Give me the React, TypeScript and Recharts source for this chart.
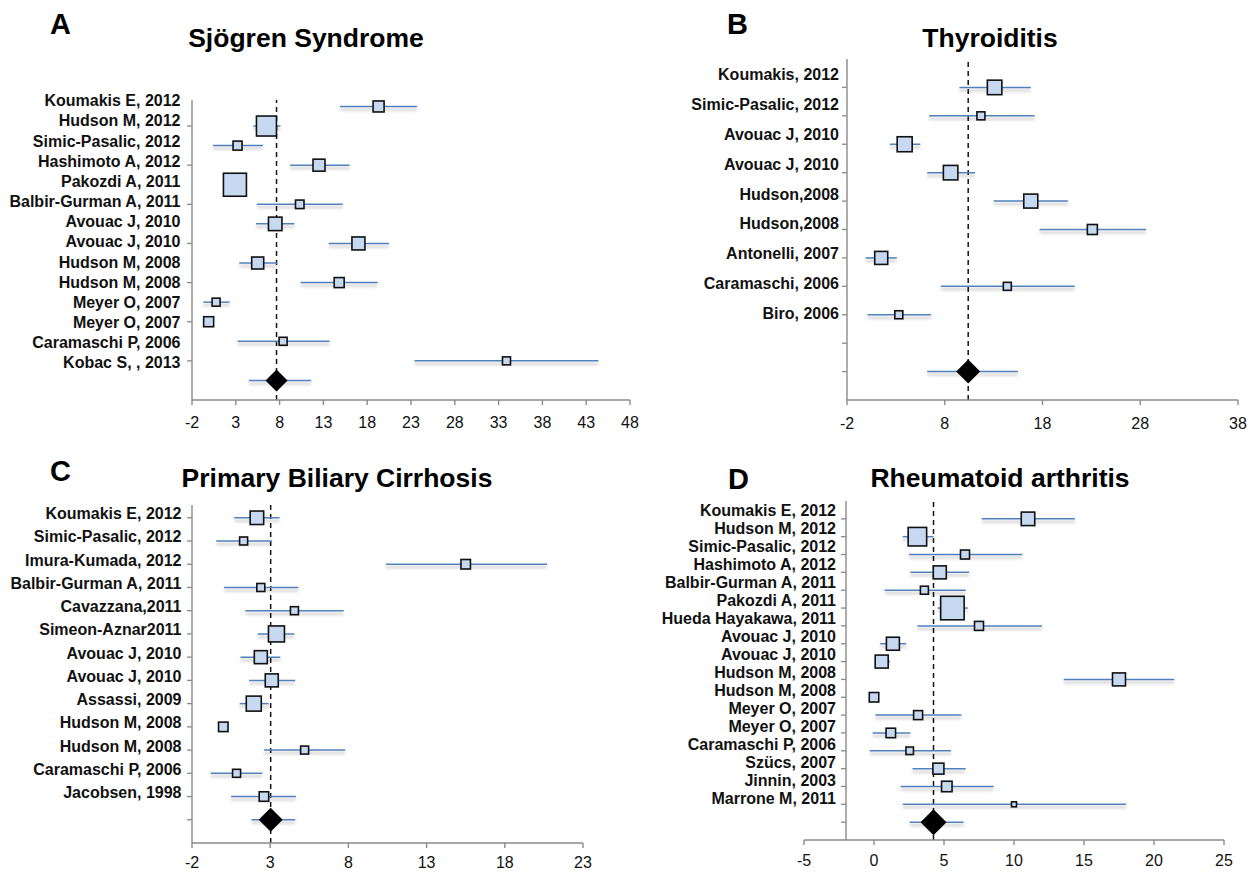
import { ScatterChart, Scatter, XAxis, YAxis, ReferenceLine, ErrorBar } from 'recharts'

// ---- A: Sjögren Syndrome
const sjoLabels = ['Koumakis E, 2012', 'Hudson M, 2012', 'Simic-Pasalic, 2012', 'Hashimoto A, 2012', 'Pakozdi A, 2011', 'Balbir-Gurman A, 2011', 'Avouac J, 2010', 'Avouac J, 2010', 'Hudson M, 2008', 'Hudson M, 2008', 'Meyer O, 2007', 'Meyer O, 2007', 'Caramaschi P, 2006', 'Kobac S, , 2013']
const sjoEst = [19.3, 6.5, 3.2, 12.5, 2.9, 10.3, 7.5, 17.0, 5.5, 14.8, 0.75, -0.1, 8.4, 33.9]
const sjoLow = [14.9, 5.0, 0.4, 9.2, 2.1, 5.4, 5.3, 13.6, 3.4, 10.4, -0.7, -0.4, 3.2, 23.4]
const sjoHigh = [23.7, 8.1, 6.1, 16.0, 3.7, 15.2, 9.7, 20.5, 7.7, 19.2, 2.3, 0.2, 13.7, 44.4]
const sjoWeight = [11, 20, 9, 12, 23, 8.5, 13.5, 13, 12, 10, 8, 10, 8, 8]
const sjoPooled = [7.65, 4.5, 11.6]
const sjoTicks = [-2, 3, 8, 13, 18, 23, 28, 33, 38, 43, 48]

// ---- B: Thyroiditis
const thyLabels = ['Koumakis, 2012', 'Simic-Pasalic, 2012', 'Avouac J, 2010', 'Avouac J, 2010', 'Hudson,2008', 'Hudson,2008', 'Antonelli, 2007', 'Caramaschi, 2006', 'Biro, 2006']
const thyEst = [13.1, 11.7, 3.9, 8.6, 16.8, 23.1, 1.5, 14.4, 3.3]
const thyLow = [9.5, 6.4, 2.4, 6.2, 13.0, 17.7, -0.1, 7.6, 0.1]
const thyHigh = [16.8, 17.2, 5.5, 11.1, 20.6, 28.6, 3.1, 21.3, 6.6]
const thyWeight = [14.5, 8, 15, 14.5, 14, 10, 13, 8, 8]
const thyPooled = [10.4, 6.2, 15.5]
const thyTicks = [-2, 8, 18, 28, 38]

// ---- C: Primary Biliary Cirrhosis
const pbcLabels = ['Koumakis E, 2012', 'Simic-Pasalic, 2012', 'Imura-Kumada, 2012', 'Balbir-Gurman A, 2011', 'Cavazzana,2011', 'Simeon-Aznar2011', 'Avouac J, 2010', 'Avouac J, 2010', 'Assassi, 2009', 'Hudson M, 2008', 'Hudson M, 2008', 'Caramaschi P, 2006', 'Jacobsen, 1998']
const pbcEst = [2.15, 1.3, 15.5, 2.4, 4.55, 3.4, 2.4, 3.1, 1.95, 0.0, 5.2, 0.85, 2.6]
const pbcLow = [0.7, -0.45, 10.4, 0.05, 1.4, 2.2, 1.1, 1.65, 1.05, -0.2, 2.6, -0.8, 0.5]
const pbcHigh = [3.6, 3.1, 20.7, 4.8, 7.7, 4.55, 3.65, 4.6, 2.9, 0.2, 7.8, 2.5, 4.65]
const pbcWeight = [13.5, 8, 9.5, 8, 8, 16, 13, 13, 15, 9.5, 8, 8, 9.5]
const pbcPooled = [3.03, 1.8, 4.6]
const pbcTicks = [-2, 3, 8, 13, 18, 23]

// ---- D: Rheumatoid arthritis
const raLabels = ['Koumakis E, 2012', 'Hudson M, 2012', 'Simic-Pasalic, 2012', 'Hashimoto A, 2012', 'Balbir-Gurman A, 2011', 'Pakozdi A, 2011', 'Hueda Hayakawa, 2011', 'Avouac J, 2010', 'Avouac J, 2010', 'Hudson M, 2008', 'Hudson M, 2008', 'Meyer O, 2007', 'Meyer O, 2007', 'Caramaschi P, 2006', 'Szücs, 2007', 'Jinnin, 2003', 'Marrone M, 2011']
const raEst = [11.0, 3.1, 6.5, 4.7, 3.6, 5.6, 7.5, 1.35, 0.55, 17.5, 0.0, 3.15, 1.2, 2.55, 4.6, 5.2, 10.0]
const raLow = [7.7, 2.05, 2.5, 2.6, 0.75, 4.55, 3.1, 0.45, 0.05, 13.55, -0.2, 0.1, -0.1, -0.3, 2.75, 1.9, 2.05]
const raHigh = [14.35, 4.25, 10.6, 6.8, 6.55, 6.7, 12.0, 2.3, 1.15, 21.45, 0.2, 6.25, 2.6, 5.5, 6.55, 8.55, 18.0]
const raWeight = [13.5, 18.5, 9, 13, 8, 23.5, 9, 13, 13, 13, 9.5, 9, 9.5, 7.5, 11, 10.5, 5]
const raPooled = [4.25, 2.55, 6.4]
const raTicks = [-5, 0, 5, 10, 15, 20, 25]

const FONT = '"Liberation Sans", Arial, Helvetica, sans-serif'
const AXIS = '#8a8a8a'
const CI_BLUE = '#4f81bd'
const BOX_FILL = '#c6d9f1'
const Y_W = 200
const M_TOP = 10
const M_RIGHT = 16
const X_H = 32

type PanelProps = {
  letter: string
  title: string
  plotLeft: number
  plotRight: number
  plotTop: number
  plotBottom: number
  titleX: number
  titleY: number
  letterX: number
  letterY: number
  labels: string[]
  est: number[]
  low: number[]
  high: number[]
  weight: number[]
  pooled: number[]
  xTicks: number[]
  tickGap: number
  firstRow: number
  yMax: number
  markStep: number
  gap: number
  dy0: number
  dyStep: number
  diamond: number
  yAxisAt?: number
}

function Panel(p: PanelProps) {
  const plotW = p.plotRight - p.plotLeft
  const plotH = p.plotBottom - p.plotTop
  const xMin = p.xTicks[0]
  const xMax = p.xTicks[p.xTicks.length - 1]
  // panel D draws its vertical axis at x = -2 instead of at the left edge
  const shift = p.yAxisAt !== undefined ? ((p.yAxisAt - xMin) / (xMax - xMin)) * plotW : 0

  const studies = p.labels.map((name, i) => ({
    name,
    x: p.est[i],
    y: p.firstRow - i,
    w: p.weight[i],
    err: [p.est[i] - p.low[i], p.high[i] - p.est[i]],
  }))
  const summary = [{ x: p.pooled[0], y: 1, err: [p.pooled[0] - p.pooled[1], p.pooled[2] - p.pooled[0]] }]
  const rowTicks = Array.from({ length: p.firstRow + 1 }, (_, i) => i)

  const renderTick = (t: any) => {
    const v = t.payload.value
    const i = p.firstRow - v
    const name = v >= 2 && i >= 0 && i < p.labels.length ? p.labels[i] : null
    const ax = t.x + shift
    return (
      <g>
        {v > 0 && v % p.markStep === 0 && <line x1={ax - 5} x2={ax} y1={t.y} y2={t.y} stroke={AXIS} strokeWidth={1.3} />}
        {name && (
          <text x={ax - p.gap} y={t.y + p.dy0 + p.dyStep * i} dy="0.36em" textAnchor="end" fontFamily={FONT} fontWeight="bold" fontSize={16} fill="#111">
            {name}
          </text>
        )}
      </g>
    )
  }

  const box = (s: any) => {
    const side = s.payload.w
    return <rect x={s.cx - side / 2} y={s.cy - side / 2} width={side} height={side} fill={BOX_FILL} stroke="#111" strokeWidth={1.6} />
  }
  const dia = (s: any) => {
    const h = p.diamond
    return <polygon points={`${s.cx - h},${s.cy} ${s.cx},${s.cy - h} ${s.cx + h},${s.cy} ${s.cx},${s.cy + h}`} fill="#000" />
  }

  const shadow = { filter: 'drop-shadow(0px 3px 1.5px rgba(0,0,0,0.28))' }

  return (
    <>
      <div style={{ position: 'absolute', left: p.letterX, top: p.letterY, fontFamily: FONT, fontWeight: 'bold', fontSize: 29, lineHeight: '30px' }}>{p.letter}</div>
      <div style={{ position: 'absolute', left: p.titleX - 250, width: 500, top: p.titleY - 15, textAlign: 'center', fontFamily: FONT, fontWeight: 'bold', fontSize: 26.5, lineHeight: '30px' }}>{p.title}</div>
      <div style={{ position: 'absolute', left: p.plotLeft - Y_W, top: p.plotTop - M_TOP }}>
        <ScatterChart width={Y_W + plotW + M_RIGHT} height={M_TOP + plotH + X_H} margin={{ top: M_TOP, right: M_RIGHT, bottom: 0, left: 0 }}>
          <XAxis
            type="number"
            dataKey="x"
            domain={[xMin, xMax]}
            ticks={p.xTicks}
            interval={0}
            height={X_H}
            stroke={AXIS}
            strokeWidth={1.4}
            tickSize={5}
            tickMargin={p.tickGap}
            tick={{ fill: '#111', fontSize: 16, fontFamily: FONT }}
          />
          <YAxis
            type="number"
            dataKey="y"
            domain={[0, p.yMax]}
            ticks={rowTicks}
            interval={0}
            width={Y_W}
            axisLine={p.yAxisAt === undefined ? { stroke: AXIS, strokeWidth: 1.4 } : false}
            tickLine={false}
            tickSize={0}
            tickMargin={0}
            tick={renderTick}
          />
          {p.yAxisAt !== undefined && <ReferenceLine x={p.yAxisAt} stroke={AXIS} strokeWidth={1.4} />}
          <ReferenceLine x={p.pooled[0]} stroke="#111" strokeWidth={1.5} strokeDasharray="5 4" />
          <Scatter data={studies} shape={box} isAnimationActive={false}>
            <ErrorBar dataKey="err" direction="x" width={0} stroke={CI_BLUE} strokeWidth={1.5} style={shadow} />
          </Scatter>
          <Scatter data={summary} shape={dia} isAnimationActive={false}>
            <ErrorBar dataKey="err" direction="x" width={0} stroke={CI_BLUE} strokeWidth={1.5} style={shadow} />
          </Scatter>
        </ScatterChart>
      </div>
    </>
  )
}

export default function App() {
  return (
    <div style={{ position: 'absolute', left: 0, top: 0, width: 1255, height: 872, background: '#fff', overflow: 'hidden' }}>
      <Panel
        letter="A" title="Sjögren Syndrome"
        plotLeft={192} plotRight={630} plotTop={100} plotBottom={400}
        titleX={306} titleY={38} letterX={50} letterY={9}
        labels={sjoLabels} est={sjoEst} low={sjoLow} high={sjoHigh} weight={sjoWeight} pooled={sjoPooled}
        xTicks={sjoTicks} tickGap={12} firstRow={15} yMax={15.33} markStep={2} gap={11.5} dy0={-6} dyStep={0.6} diamond={11}
      />
      <Panel
        letter="B" title="Thyroiditis"
        plotLeft={847} plotRight={1238} plotTop={59} plotBottom={400}
        titleX={990} titleY={38} letterX={727} letterY={9}
        labels={thyLabels} est={thyEst} low={thyLow} high={thyHigh} weight={thyWeight} pooled={thyPooled}
        xTicks={thyTicks} tickGap={13} firstRow={11} yMax={12} markStep={1} gap={8} dy0={-13.3} dyStep={1.49} diamond={12}
      />
      <Panel
        letter="C" title="Primary Biliary Cirrhosis"
        plotLeft={192} plotRight={583} plotTop={505} plotBottom={843}
        titleX={337} titleY={478} letterX={50} letterY={456}
        labels={pbcLabels} est={pbcEst} low={pbcLow} high={pbcHigh} weight={pbcWeight} pooled={pbcPooled}
        xTicks={pbcTicks} tickGap={9} firstRow={14} yMax={14.55} markStep={1} gap={10.5} dy0={-4.3} dyStep={0} diamond={12}
      />
      <Panel
        letter="D" title="Rheumatoid arthritis"
        plotLeft={804} plotRight={1224} plotTop={501} plotBottom={840}
        titleX={1000} titleY={478} letterX={728} letterY={464}
        labels={raLabels} est={raEst} low={raLow} high={raHigh} weight={raWeight} pooled={raPooled}
        xTicks={raTicks} tickGap={10} firstRow={18} yMax={19} markStep={1} gap={10} dy0={-9} dyStep={0.19} diamond={13}
        yAxisAt={-2}
      />
    </div>
  )
}
